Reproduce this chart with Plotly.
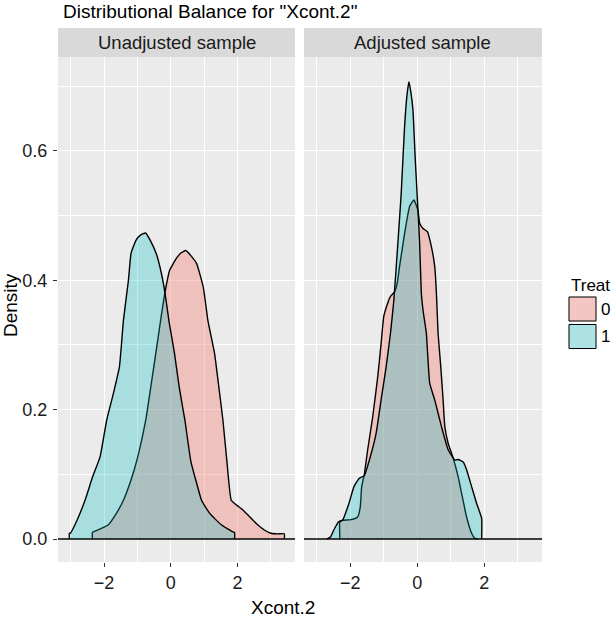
"""Density balance plot, ggplot-like facets, rebuilt with Plotly."""

import plotly.graph_objects as go

W, H = 613, 618
FONT = "Liberation Sans, Arial, Helvetica, sans-serif"
PANEL_BG = "#EBEBEB"
STRIP_BG = "#D9D9D9"
FILL = {"0": "rgba(248,118,109,0.36)", "1": "rgba(0,191,196,0.28)"}

# ---- data ----
facets = ["Unadjusted sample", "Adjusted sample"]
treat_levels = ["0", "1"]

unadj_x0 = [-2.35, -2.32, -2.1, -1.87, -1.65, -1.42, -1.2, -1.0, -0.75, -0.6,
            -0.45, -0.3, -0.18, -0.03, 0.17, 0.3, 0.45, 0.6, 0.77, 0.97,
            1.11, 1.31, 1.45, 1.56, 1.68, 1.81, 1.98, 2.16, 2.35, 2.56,
            2.8, 3.0, 3.2, 3.4]
unadj_y0 = [0.010, 0.011, 0.016, 0.022, 0.038, 0.060, 0.090, 0.125, 0.184, 0.235,
            0.287, 0.340, 0.380, 0.416, 0.434, 0.442, 0.446, 0.438, 0.426, 0.390,
            0.338, 0.287, 0.230, 0.184, 0.120, 0.060, 0.052, 0.045, 0.035, 0.024,
            0.014, 0.009, 0.008, 0.008]

unadj_x1 = [-3.04, -3.01, -2.81, -2.57, -2.35, -2.12, -1.92, -1.72, -1.54, -1.42,
            -1.27, -1.19, -1.04, -0.9, -0.755, -0.6, -0.43, -0.28, -0.18, -0.05,
            0.11, 0.25, 0.42, 0.6, 0.78, 0.92, 1.16, 1.51, 1.86, 1.91]
unadj_y1 = [0.009, 0.009, 0.029, 0.060, 0.095, 0.127, 0.184, 0.225, 0.266, 0.338,
            0.400, 0.442, 0.462, 0.470, 0.473, 0.460, 0.440, 0.410, 0.382, 0.335,
            0.287, 0.235, 0.184, 0.120, 0.085, 0.060, 0.040, 0.022, 0.011, 0.010]

adj_x0 = [-2.31, -2.23, -1.98, -1.78, -1.70, -1.66, -1.58, -1.48, -1.33, -1.18,
          -1.08, -1.0, -0.9, -0.8, -0.68, -0.6, -0.53, -0.38, -0.23, -0.1,
          0.02, 0.07, 0.17, 0.3, 0.42, 0.52, 0.57, 0.62, 0.7, 0.77,
          0.82, 0.92, 1.07, 1.22, 1.32, 1.47, 1.62, 1.72, 1.8]
adj_y0 = [0.027, 0.029, 0.030, 0.034, 0.050, 0.081, 0.100, 0.138, 0.189, 0.251,
          0.302, 0.344, 0.362, 0.375, 0.382, 0.395, 0.421, 0.472, 0.514, 0.524,
          0.508, 0.488, 0.480, 0.475, 0.452, 0.421, 0.380, 0.318, 0.266, 0.215,
          0.174, 0.148, 0.125, 0.096, 0.071, 0.034, 0.009, 0.001, 0.0]

adj_x1 = [-2.7, -2.59, -2.49, -2.34, -2.23, -2.04, -1.89, -1.73, -1.58, -1.43,
          -1.23, -1.08, -0.93, -0.8, -0.7, -0.58, -0.48, -0.38, -0.31, -0.25,
          -0.19, -0.13, -0.06, 0.02, 0.07, 0.12, 0.17, 0.27, 0.37, 0.52,
          0.72, 0.92, 1.12, 1.22, 1.37, 1.47, 1.62, 1.77, 1.92]
adj_y1 = [0.0, 0.003, 0.014, 0.027, 0.029, 0.055, 0.081, 0.094, 0.098, 0.122,
          0.163, 0.215, 0.266, 0.318, 0.369, 0.457, 0.534, 0.637, 0.685, 0.707,
          0.690, 0.663, 0.586, 0.508, 0.457, 0.380, 0.354, 0.318, 0.241, 0.215,
          0.174, 0.138, 0.122, 0.123, 0.119, 0.107, 0.081, 0.055, 0.032]

x_ticks = [-2, 0, 2]
x_minor = [-3, -1, 1, 3]
y_ticks = [0.0, 0.2, 0.4, 0.6]
y_minor = [0.1, 0.3, 0.5, 0.7]


def px_x(p):
    return p / W


def px_y(p):
    return 1 - p / H


def closed(xs, ys):
    # density polygon down to the baseline at both ends
    return [xs[0]] + xs + [xs[-1]], [0] + ys + [0]


fig = go.Figure()
series = [
    ("x", "0", unadj_x0, unadj_y0),
    ("x", "1", unadj_x1, unadj_y1),
    ("x2", "0", adj_x0, adj_y0),
    ("x2", "1", adj_x1, adj_y1),
]
for xa, lvl, xs, ys in series:
    cx, cy = closed(xs, ys)
    fig.add_trace(go.Scatter(
        x=cx, y=cy, xaxis=xa, yaxis="y" if xa == "x" else "y2",
        mode="lines", fill="toself", fillcolor=FILL[lvl],
        line=dict(color="black", width=1.4, shape="spline", smoothing=0.4),
        showlegend=False, hoverinfo="skip",
    ))

panel_l = (58, 295)
panel_r = (304, 542)
panel_top, panel_bot = 57, 562
xrange_ = [-3.38, 3.72]
yrange_ = [-0.0355, 0.745]

axis_common = dict(
    range=xrange_, tickvals=x_ticks, ticktext=["\u22122", "0", "2"],
    ticks="outside", ticklen=4, tickwidth=1, tickcolor="#333333",
    tickfont=dict(size=18, color="#1a1a1a", family=FONT),
    showgrid=True, gridcolor="white", gridwidth=1.3, zeroline=False,
    showline=False,
    minor=dict(tickvals=x_minor, showgrid=True, gridcolor="white",
               gridwidth=0.6, ticks=""),
)
yaxis_common = dict(
    range=yrange_, tickvals=y_ticks, ticktext=["0.0", "0.2", "0.4", "0.6"],
    showgrid=True, gridcolor="white", gridwidth=1.3, zeroline=False,
    showline=False,
    domain=[px_y(panel_bot), px_y(panel_top)],
    minor=dict(tickvals=y_minor, showgrid=True, gridcolor="white",
               gridwidth=0.6, ticks=""),
)

shapes = []
annotations = []

# panel backgrounds, strips and strip labels
for (l, r), label, xa in zip([panel_l, panel_r], facets, ["x", "x2"]):
    shapes.append(dict(type="rect", xref="paper", yref="paper",
                       x0=px_x(l), x1=px_x(r), y0=px_y(panel_bot), y1=px_y(panel_top),
                       fillcolor=PANEL_BG, line=dict(width=0), layer="below"))
    shapes.append(dict(type="rect", xref="paper", yref="paper",
                       x0=px_x(l), x1=px_x(r), y0=px_y(57), y1=px_y(28),
                       fillcolor=STRIP_BG, line=dict(width=0), layer="below"))
    annotations.append(dict(text=label, xref="paper", yref="paper",
                            x=px_x((l + r) / 2), y=px_y(42.5), showarrow=False,
                            xanchor="center", yanchor="middle",
                            font=dict(size=18.5, color="#1a1a1a", family=FONT)))
    shapes.append(dict(type="line", xref=f"{xa} domain", yref="y",
                       x0=0, x1=1, y0=0, y1=0,
                       line=dict(color="black", width=1.4), layer="above"))

# title and axis titles
annotations.append(dict(text='Distributional Balance for "Xcont.2"', xref="paper",
                        yref="paper", x=px_x(61), y=px_y(12), showarrow=False,
                        xanchor="left", yanchor="middle",
                        font=dict(size=19, color="#000000", family=FONT)))
annotations.append(dict(text="Xcont.2", xref="paper", yref="paper",
                        x=px_x(283), y=px_y(607), showarrow=False,
                        xanchor="center", yanchor="middle",
                        font=dict(size=19, color="#000000", family=FONT)))
annotations.append(dict(text="Density", xref="paper", yref="paper",
                        x=px_x(10), y=px_y(305), showarrow=False, textangle=-90,
                        xanchor="center", yanchor="middle",
                        font=dict(size=19, color="#000000", family=FONT)))

# legend drawn ggplot style
annotations.append(dict(text="Treat", xref="paper", yref="paper",
                        x=px_x(569), y=px_y(285), showarrow=False,
                        xanchor="left", yanchor="middle",
                        font=dict(size=17, color="#000000", family=FONT)))
for i, lvl in enumerate(treat_levels):
    top = 296 + i * 27.5
    shapes.append(dict(type="rect", xref="paper", yref="paper",
                       x0=px_x(568), x1=px_x(597), y0=px_y(top + 26), y1=px_y(top),
                       fillcolor="#F2F2F2", line=dict(width=0)))
    shapes.append(dict(type="rect", xref="paper", yref="paper",
                       x0=px_x(569), x1=px_x(596), y0=px_y(top + 25), y1=px_y(top + 1),
                       fillcolor=FILL[lvl], line=dict(color="black", width=1)))
    annotations.append(dict(text=lvl, xref="paper", yref="paper",
                            x=px_x(599), y=px_y(top + 13), showarrow=False,
                            xanchor="left", yanchor="middle",
                            font=dict(size=17, color="#000000", family=FONT)))

fig.update_layout(
    width=W, height=H,
    margin=dict(l=0, r=0, t=0, b=0),
    paper_bgcolor="white", plot_bgcolor="rgba(0,0,0,0)",
    font=dict(family=FONT),
    xaxis=dict(domain=[px_x(panel_l[0]), px_x(panel_l[1])], anchor="y", **axis_common),
    xaxis2=dict(domain=[px_x(panel_r[0]), px_x(panel_r[1])], anchor="y2", **axis_common),
    yaxis=dict(anchor="x", ticks="outside", ticklen=4, tickwidth=1,
               tickcolor="#333333", ticklabelstandoff=2,
               tickfont=dict(size=18, color="#1a1a1a", family=FONT),
               **yaxis_common),
    yaxis2=dict(anchor="x2", matches="y", showticklabels=False, ticks="",
                **yaxis_common),
    shapes=shapes,
    annotations=annotations,
)

# page body margin would otherwise push the figure 8px off the window
fig.write_html("out.html",
               config={"displayModeBar": False},
               post_script="document.body.style.margin='0';"
                           "document.body.style.overflow='hidden';")
